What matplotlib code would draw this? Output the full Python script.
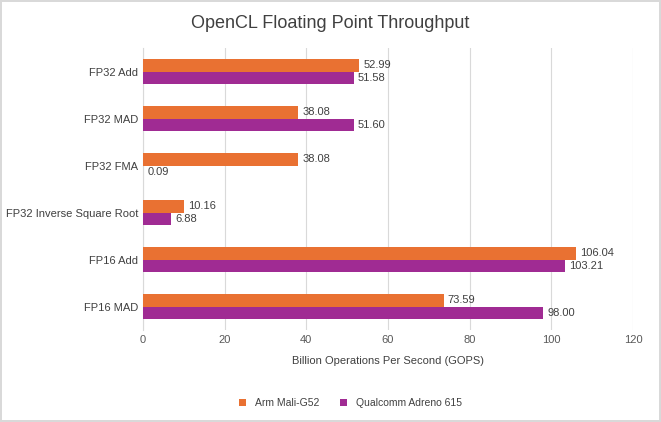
import matplotlib.pyplot as plt
import numpy as np

categories = ['FP32 Add', 'FP32 MAD', 'FP32 FMA', 'FP32 Inverse Square Root', 'FP16 Add', 'FP16 MAD']
mali = [52.99, 38.08, 38.08, 10.16, 106.04, 73.59]
adreno = [51.58, 51.60, 0.09, 6.88, 103.21, 98.00]
series_names = ['Arm Mali-G52', 'Qualcomm Adreno 615']

plt.rcParams['font.family'] = ['Liberation Sans', 'DejaVu Sans']

fig = plt.figure(figsize=(6.61, 4.22), dpi=100)
fig.patch.set_edgecolor('#d9d9d9')
fig.patch.set_linewidth(1.5)
ax = fig.add_axes([0.216, 0.218, 0.742, 0.668])

y = np.arange(len(categories))
h = 0.27
orange = '#E97132'
purple = '#A02B93'
ax.barh(y - h / 2, mali, height=h, color=orange, label=series_names[0], zorder=3)
ax.barh(y + h / 2, adreno, height=h, color=purple, label=series_names[1], zorder=3)

for i in range(len(categories)):
    ax.text(mali[i] + 1, y[i] - h / 2, '%.2f' % mali[i], va='center', fontsize=8, color='#404040')
    ax.text(adreno[i] + 1, y[i] + h / 2, '%.2f' % adreno[i], va='center', fontsize=8, color='#404040')

ax.set_ylim(len(categories) - 0.5, -0.5)
ax.set_yticks(y)
ax.set_yticklabels(categories, fontsize=8, color='#404040')
ax.set_xlim(0, 120)
ax.set_xticks(range(0, 121, 20))
ax.tick_params(axis='x', labelsize=8, colors='#595959', length=0)
ax.tick_params(axis='y', length=0)
ax.grid(True, axis='x', color='#d9d9d9', linewidth=0.8, zorder=0)
for s in ['top', 'right', 'bottom']:
    ax.spines[s].set_visible(False)
ax.spines['left'].set_color('#d9d9d9')

ax.set_xlabel('Billion Operations Per Second (GOPS)', fontsize=8, color='#404040', labelpad=8)
fig.suptitle('OpenCL Floating Point Throughput', fontsize=13, color='#404040', y=0.965)
fig.legend(loc='lower center', bbox_to_anchor=(0.53, 0.01), ncol=2, frameon=False,
           fontsize=7.5, handlelength=0.7, handleheight=0.7, labelcolor='#404040')

fig.savefig('out.png', dpi=100, edgecolor=fig.get_edgecolor())
